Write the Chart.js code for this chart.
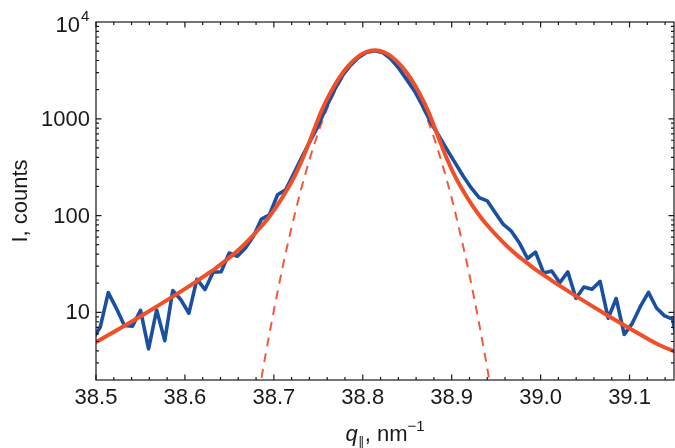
<!DOCTYPE html>
<html>
<head>
<meta charset="utf-8">
<script src="https://cdn.jsdelivr.net/npm/chart.js@4.4.1/dist/chart.umd.min.js"></script>
<style>
  html, body { margin: 0; padding: 0; background: #fff; }
  #wrap { width: 675px; height: 448px; }
</style>
</head>
<body>
<div id="wrap"><canvas id="chart" width="675" height="448"></canvas></div>
<script>
// --- Data ---

// measured intensity (blue)
const qData = [
  38.4957, 38.5047, 38.5138, 38.5229, 38.5319, 38.5410, 38.5501, 38.5591, 38.5682, 38.5773,
  38.5863, 38.5954, 38.6045, 38.6135, 38.6226, 38.6317, 38.6407, 38.6498, 38.6589, 38.6679,
  38.6770, 38.6861, 38.6951, 38.7042, 38.7133, 38.7223, 38.7314, 38.7405, 38.7495, 38.7586,
  38.7677, 38.7767, 38.7858, 38.7949, 38.8039, 38.8130, 38.8221, 38.8311, 38.8402, 38.8493,
  38.8583, 38.8674, 38.8765, 38.8855, 38.8946, 38.9037, 38.9127, 38.9218, 38.9309, 38.9399,
  38.9490, 38.9581, 38.9671, 38.9762, 38.9853, 38.9943, 39.0034, 39.0125, 39.0215, 39.0306,
  39.0397, 39.0487, 39.0578, 39.0669, 39.0759, 39.0850, 39.0941, 39.1031, 39.1122, 39.1213,
  39.1303, 39.1394, 39.1485, 39.1575
];
const countData = [
  5.2, 7.0, 16, 11, 7.3, 7.2, 10.5, 4.2, 10.6, 5.1,
  16.8, 13.5, 9.8, 22, 17.2, 26, 26.3, 41, 38, 46,
  61, 92, 102, 164, 185, 270, 400, 580, 830, 1300,
  1950, 2750, 3540, 4280, 4850, 5060, 4850, 4200, 3360, 2555,
  1925, 1350, 916, 668, 483, 352, 258, 194, 153, 142,
  107, 81, 69, 52, 36, 42, 25.5, 26.7, 20.2, 26.2,
  14.0, 18.3, 17.3, 20.9, 8.7, 13.9, 5.9, 7.7, 11.5, 16.1,
  11.1, 9.2, 8.5, 3.2
];

// full fit (red solid)
const fitQ = [
  38.4735, 38.4935, 38.5135, 38.5335, 38.5535, 38.5735, 38.5935, 38.6135, 38.6235, 38.6335,
  38.6435, 38.6535, 38.6635, 38.6735, 38.6835, 38.6935, 38.7035, 38.7135, 38.7235, 38.7335,
  38.7435, 38.7535, 38.7635, 38.7735, 38.7835, 38.7935, 38.8035, 38.8135, 38.8235, 38.8335,
  38.8435, 38.8535, 38.8635, 38.8735, 38.8835, 38.8935, 38.9035, 38.9135, 38.9235, 38.9335,
  38.9435, 38.9535, 38.9635, 38.9735, 38.9835, 38.9935, 39.0035, 39.0135, 39.0335, 39.0535,
  39.0735, 39.0935, 39.1135, 39.1335, 39.1535
];
const fitI = [
  3.85, 4.6, 5.8, 7.4, 9.5, 12.3, 16, 21, 24.3, 28,
  33, 39, 47, 58, 73, 94, 126, 176, 257, 410,
  700, 1200, 1850, 2650, 3500, 4300, 4900, 5100, 4900, 4300,
  3500, 2650, 1850, 1200, 700, 410, 257, 176, 126, 94,
  73, 58, 47, 39, 33, 28, 24.3, 21, 16, 12.3,
  9.5, 7.4, 5.8, 4.6, 3.85
];

// gaussian part (red dashed)
const gaussQ = [
  38.68, 38.69, 38.70, 38.71, 38.72, 38.73, 38.74, 38.75, 38.76, 38.77,
  38.78, 38.79, 38.80, 38.81, 38.82, 38.83, 38.84, 38.85, 38.86, 38.87,
  38.88, 38.89, 38.90, 38.91, 38.92, 38.93, 38.94, 38.95
];
const gaussI = [
  0.99, 3.37, 10.4, 29.6, 75.8, 177, 376, 725, 1272, 2028,
  2941, 3877, 4646, 5061, 5013, 4514, 3697, 2751, 1862, 1146,
  641, 326, 151, 63, 24.2, 8.4, 2.65, 0.76
];

const xTicks = [38.5, 38.6, 38.7, 38.8, 38.9, 39.0, 39.1];
const xTickLabels = ["38.5", "38.6", "38.7", "38.8", "38.9", "39.0", "39.1"];
const yTicks = [10, 100, 1000, 10000];
const yTickLabels = ["10", "100", "1000", "10^4"];

// --- Helpers ---

const FONT = '"Liberation Sans", Arial, Helvetica, sans-serif';
const INK = "#1a1a1a";

function pairs(xs, ys) {
  return xs.map((x, i) => ({ x: x, y: ys[i] }));
}

// frame, inward ticks, labels and titles
const frameTicks = {
  id: "frameTicks",
  afterDraw(chart) {
    const { ctx, chartArea: a, scales: { x, y } } = chart;
    ctx.save();
    ctx.strokeStyle = INK;
    ctx.lineWidth = 1.2;
    ctx.strokeRect(a.left, a.top, a.right - a.left, a.bottom - a.top);

    ctx.beginPath();
    // x ticks, bottom and top
    for (let i = 0; i <= 32; i++) {
      const v = 38.5 + i * 0.02;
      const len = i % 5 === 0 ? 5.5 : 3;
      const px = x.getPixelForValue(v);
      ctx.moveTo(px, a.bottom); ctx.lineTo(px, a.bottom - len);
      ctx.moveTo(px, a.top); ctx.lineTo(px, a.top + len);
    }
    // y ticks, left and right
    for (let n = 0; n <= 3; n++) {
      for (let m = 1; m <= 9; m++) {
        const v = m * Math.pow(10, n);
        if (v <= 2 || v >= 10000) continue;
        const len = m === 1 ? 5.5 : 3;
        const py = y.getPixelForValue(v);
        ctx.moveTo(a.left, py); ctx.lineTo(a.left + len, py);
        ctx.moveTo(a.right, py); ctx.lineTo(a.right - len, py);
      }
    }
    ctx.stroke();

    ctx.fillStyle = INK;
    // x tick labels
    ctx.font = "22px " + FONT;
    ctx.textAlign = "center";
    ctx.textBaseline = "middle";
    xTicks.forEach((v, i) => {
      ctx.fillText(xTickLabels[i], x.getPixelForValue(v), 398);
    });

    // y tick labels
    ctx.textAlign = "right";
    yTicks.forEach((v, i) => {
      const py = y.getPixelForValue(v);
      const lab = yTickLabels[i];
      if (lab.indexOf("^") > 0) {
        const [base, exp] = lab.split("^");
        ctx.font = "22px " + FONT;
        ctx.textAlign = "right";
        ctx.fillText(base, 80, py + 4);
        ctx.font = "15px " + FONT;
        ctx.textAlign = "left";
        ctx.fillText(exp, 81, py - 5);
        ctx.textAlign = "right";
      } else {
        ctx.font = "22px " + FONT;
        ctx.fillText(lab, 90, py + 1);
      }
    });

    // x title: q_|| , nm^-1
    const cx = (a.left + a.right) / 2;
    const base = 441;
    const parts = [
      { t: "q", f: "italic 22px " + FONT, dy: 0 },
      { t: "\u2225", f: "13px " + FONT, dy: 5 },
      { t: ", nm", f: "22px " + FONT, dy: 0 },
      { t: "\u22121", f: "15px " + FONT, dy: -10 }
    ];
    let total = 0;
    parts.forEach(p => { ctx.font = p.f; p.w = ctx.measureText(p.t).width; total += p.w; });
    let xx = cx - total / 2;
    ctx.textAlign = "left";
    ctx.textBaseline = "alphabetic";
    parts.forEach(p => {
      ctx.font = p.f;
      ctx.fillText(p.t, xx, base + p.dy);
      xx += p.w;
    });

    // y title
    ctx.save();
    ctx.translate(21, (a.top + a.bottom) / 2);
    ctx.rotate(-Math.PI / 2);
    ctx.font = "22px " + FONT;
    ctx.textAlign = "center";
    ctx.textBaseline = "middle";
    ctx.fillText("I, counts", 0, 0);
    ctx.restore();

    ctx.restore();
  }
};

// --- Chart ---

new Chart(document.getElementById("chart").getContext("2d"), {
  type: "line",
  data: {
    datasets: [
      {
        label: "fit",
        data: pairs(fitQ, fitI),
        borderColor: "#ef5029",
        borderWidth: 4,
        pointRadius: 0,
        cubicInterpolationMode: "monotone",
        clip: 0
      },
      {
        label: "data",
        data: pairs(qData, countData),
        borderColor: "#1b4fa0",
        borderWidth: 3.6,
        borderJoinStyle: "round",
        pointRadius: 0,
        tension: 0,
        clip: 0
      },
      {
        label: "gauss",
        data: pairs(gaussQ, gaussI),
        borderColor: "#f05a3c",
        borderWidth: 2,
        borderDash: [9, 7],
        pointRadius: 0,
        cubicInterpolationMode: "monotone",
        clip: 0
      }
    ]
  },
  options: {
    responsive: false,
    animation: false,
    layout: { padding: { left: 0, top: 22, right: 1, bottom: 0 } },
    plugins: { legend: { display: false }, tooltip: { enabled: false } },
    scales: {
      x: {
        type: "linear",
        min: 38.5,
        max: 39.15,
        grid: { display: false },
        border: { display: false },
        ticks: { display: false },
        afterBuildTicks: s => { s.ticks = xTicks.map(v => ({ value: v })); },
        afterFit: s => { s.height = 68; }
      },
      y: {
        type: "logarithmic",
        min: 2,
        max: 10000,
        grid: { display: false },
        border: { display: false },
        ticks: { display: false },
        afterBuildTicks: s => { s.ticks = yTicks.map(v => ({ value: v })); },
        afterFit: s => { s.width = 96; }
      }
    }
  },
  plugins: [frameTicks]
});
</script>
</body>
</html>
